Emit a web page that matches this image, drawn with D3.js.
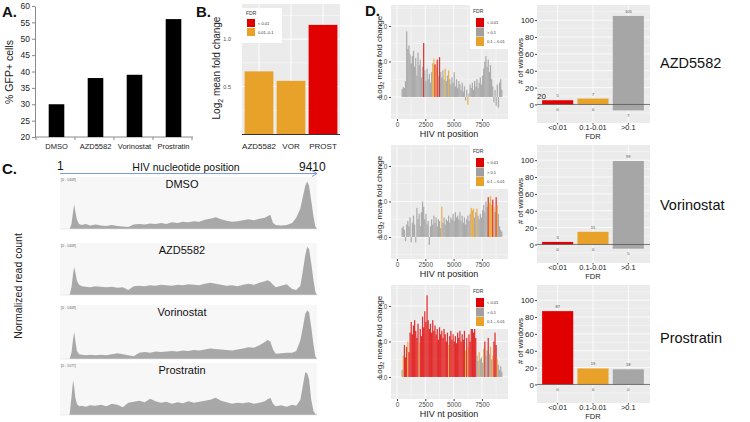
<!DOCTYPE html>
<html>
<head>
<meta charset="utf-8">
<script src="https://cdn.jsdelivr.net/npm/d3@7"></script>
<style>
body { margin: 0; background: #fff; }
</style>
</head>
<body>
<svg id="fig" width="750" height="422"></svg>
<script>
// ---- data ----
// A: % GFP+ cells
var gfpDrugs = ["DMSO", "AZD5582", "Vorinostat", "Prostratin"];
var gfpPct = [30, 38, 39, 56];
var gfpTicks = [20, 25, 30, 35, 40, 45, 50, 55, 60];

// B: log2 mean fold change per drug
var fcDrugs = ["AZD5582", "VOR", "PROST"];
var fcValues = [0.66, 0.56, 1.15];
var fcFdr = ["o", "o", "r"];
var fcTicks = [0.5, 1.0];

// C: coverage tracks (fraction of track max)
var trackNames = ["DMSO", "AZD5582", "Vorinostat", "Prostratin"];
var trackRanges = ["[0 - 1409]", "[0 - 1409]", "[0 - 1409]", "[0 - 1077]"];
var covPos = [0, 350, 420, 480, 520, 560, 620, 700, 800, 950,
  1100, 1300, 1500, 1700, 1900, 2100, 2300, 2500, 2700, 2900,
  3100, 3300, 3500, 3700, 3900, 4100, 4300, 4500, 4700, 4900,
  5100, 5300, 5500, 5700, 5900, 6100, 6300, 6500, 6700, 6900,
  7100, 7300, 7500, 7600, 7700, 7800, 7900, 8100, 8300, 8500,
  8650, 8800, 8900, 8980, 9050, 9120, 9200, 9280, 9350, 9410];
var covDMSO = [0, 0, 0.1, 0.35, 0.48, 0.35, 0.18, 0.1, 0.08, 0.1,
  0.07, 0.09, 0.07, 0.06, 0.08, 0.06, 0.05, 0.04, 0.09, 0.1,
  0.09, 0.11, 0.1, 0.12, 0.1, 0.13, 0.12, 0.14, 0.13, 0.15,
  0.14, 0.18, 0.2, 0.23, 0.19, 0.16, 0.14, 0.15, 0.17, 0.19,
  0.17, 0.2, 0.22, 0.25, 0.28, 0.12, 0.08, 0.07, 0.08, 0.12,
  0.22, 0.4, 0.65, 0.85, 0.93, 0.85, 0.55, 0.25, 0.05, 0];
var covAZD = [0, 0, 0.15, 0.42, 0.55, 0.45, 0.28, 0.2, 0.17, 0.16,
  0.15, 0.17, 0.16, 0.15, 0.16, 0.14, 0.15, 0.1, 0.17, 0.18,
  0.17, 0.19, 0.18, 0.2, 0.19, 0.18, 0.2, 0.19, 0.21, 0.2,
  0.19, 0.22, 0.24, 0.22, 0.2, 0.18, 0.19, 0.17, 0.2, 0.22,
  0.2, 0.24, 0.27, 0.29, 0.26, 0.2, 0.15, 0.18, 0.21, 0.12,
  0.1, 0.18, 0.5, 0.78, 0.94, 0.9, 0.62, 0.3, 0.06, 0];
var covVOR = [0, 0, 0.12, 0.38, 0.51, 0.35, 0.15, 0.09, 0.08, 0.07,
  0.08, 0.07, 0.08, 0.07, 0.09, 0.11, 0.09, 0.07, 0.05, 0.12,
  0.13, 0.12, 0.14, 0.13, 0.14, 0.15, 0.14, 0.16, 0.15, 0.17,
  0.16, 0.18, 0.2, 0.19, 0.18, 0.17, 0.16, 0.18, 0.2, 0.22,
  0.21, 0.26, 0.32, 0.36, 0.33, 0.18, 0.1, 0.11, 0.12, 0.12,
  0.15, 0.35, 0.62, 0.85, 0.92, 0.88, 0.6, 0.28, 0.05, 0];
var covPROS = [0, 0, 0.35, 0.68, 0.55, 0.35, 0.22, 0.17, 0.18, 0.16,
  0.19, 0.18, 0.2, 0.17, 0.22, 0.2, 0.15, 0.24, 0.26, 0.28,
  0.25, 0.32, 0.27, 0.24, 0.26, 0.22, 0.25, 0.23, 0.27, 0.24,
  0.26, 0.28, 0.3, 0.34, 0.28, 0.25, 0.22, 0.24, 0.23, 0.25,
  0.22, 0.24, 0.27, 0.31, 0.34, 0.22, 0.17, 0.19, 0.16, 0.2,
  0.18, 0.3, 0.6, 0.84, 0.82, 0.7, 0.3, 0.08, 0.02, 0];

// D: windows along HIV genome
var winPos = [400, 500, 600, 700, 800, 900, 1000, 1100, 1200, 1300,
  1400, 1500, 1600, 1700, 1800, 1900, 2000, 2100, 2200, 2300,
  2400, 2500, 2600, 2700, 2800, 2900, 3000, 3100, 3200, 3300,
  3400, 3500, 3600, 3700, 3800, 3900, 4000, 4100, 4200, 4300,
  4400, 4500, 4600, 4700, 4800, 4900, 5000, 5100, 5200, 5300,
  5400, 5500, 5600, 5700, 5800, 5900, 6000, 6100, 6200, 6300,
  6400, 6500, 6600, 6700, 6800, 6900, 7000, 7100, 7200, 7300,
  7400, 7500, 7600, 7700, 7800, 7900, 8000, 8100, 8200, 8300,
  8400, 8500, 8600, 8700, 8800, 8900, 9000, 9100, 9200];
var lfcAZD = [0.22, 0.28, 0.25, 0.45, 1.85, 1.35, 1.45, 1.2, 0.95, 1.15,
  1.3, 0.85, 1.1, 0.6, 1.25, 0.9, 1.05, 0.55, 0.85, 1.52,
  0.75, 0.45, 0.8, 0.5, 0.65, 0.4, 0.7, 0.95, 1.08, 0.92,
  0.85, 1.05, 0.6, 1.12, 0.7, 0.55, 0.75, 0.5, 0.8, 0.45,
  0.6, 0.75, 0.5, 0.35, 0.55, 0.4, 0.7, 0.3, 0.5, 0.25,
  0.45, 0.35, 0.2, 0.4, 0.15, 0.3, -0.1, 0.2, -0.22, 0.1,
  0.35, 0.25, 0.4, 0.2, 0.45, 0.3, 0.5, 0.25, 0.4, 0.55,
  0.35, 0.6, 0.8, 1.0, 1.15, 0.85, 1.05, 0.7, 0.9, 0.5,
  0.3, -0.15, 0.2, -0.25, 0.35, -0.3, 0.4, 0.5, 0.2];
var fdrAZD = "gggggggggg" + "gggggggggr" + "gggggggoor" + "orgrggggog" + "gogggggggg" +
  "ggggggggog" + "gggggggggg" + "gggggggggg" + "ggggggggg";
var lfcVOR = [0.25, 0.3, 0.2, -0.12, 0.35, 0.45, 0.3, 0.55, -0.15, 0.4,
  0.6, 0.35, -0.15, 0.82, 0.5, 0.65, 0.3, 0.7, 1.0, 0.85,
  0.5, 0.65, 0.35, 0.45, -0.22, 0.3, 0.5, 0.35, 0.6, 0.4,
  0.55, 0.3, 0.5, 0.45, 0.25, 0.85, 0.4, 0.55, 0.35, 0.5,
  0.45, 0.6, 0.4, 0.55, 0.5, 0.65, 0.45, 0.7, 0.55, 0.6,
  0.5, 0.7, 0.45, 0.6, 0.4, 0.55, 0.35, 0.5, 0.6, 0.45,
  0.65, 0.82, 0.75, 0.8, 0.55, 0.7, 0.8, 0.6, 0.5, 0.65,
  0.55, 0.75, 0.9, 0.7, 1.0, 0.85, 1.12, 0.95, 1.15, 0.9,
  1.05, 0.85, 0.7, 1.12, 0.9, 0.65, 0.3, 0.2, 0.15];
var fdrVOR = "gggggggggg" + "gggggggggg" + "gggggggggg" + "gggggogggg" + "gggggggggg" +
  "gggggggggg" + "goooggoggg" + "ggggggrooo" + "rogrogggg";
var lfcPROS = [0.2, 0.6, 0.9, 0.55, 0.85, 1.0, 0.7, 1.25, 1.55, 1.2,
  1.45, 1.6, 1.3, 1.1, 1.5, 0.95, 1.35, 1.15, 1.7, 1.4,
  1.85, 1.55, 2.3, 1.6, 1.35, 1.5, 1.25, 1.6, 1.3, 1.45,
  1.2, 1.35, 1.05, 1.4, 1.2, 1.3, 1.1, 1.35, 1.2, 1.0,
  1.25, 0.9, 1.15, 1.3, 1.05, 1.2, 1.0, 1.15, 0.95, 1.25,
  1.1, 1.3, 1.0, 1.2, 1.05, 1.3, 0.75, 1.1, 0.85, 1.2,
  1.0, 1.35, 1.45, 1.25, 1.4, 1.1, 0.6, 0.45, 0.7, 0.5,
  0.55, 0.4, 0.8, 1.0, 0.6, 0.75, 1.1, 0.65, 0.85, 0.5,
  0.6, 1.0, 1.25, 0.9, 0.5, 0.35, 0.2, 0.3, 0.15];
var fdrPROS = "gorrrorrrr" + "rrrrrorrrr" + "rrrrrrrrrr" + "rrrrrrrrrr" + "rorrrrrrrr" +
  "rrrrrroror" + "rrrrrrggog" + "ggorggrgog" + "orrrogggg";
var posTicks = [0, 2500, 5000, 7500];
var lfcTicks = [0, 1, 2];

// D: window counts per FDR class (up = above zero, down = below zero)
var fdrLevels = ["<0.01", "0.1-0.01", ">0.1"];
var upAZD = [5, 7, 105], downAZD = [0, 0, 7];
var upVOR = [3, 15, 99], downVOR = [0, 0, 5];
var upPROS = [87, 19, 18], downPROS = [0, 0, 0];
var countTicks = [0, 20, 40, 60, 80, 100];
var dDrugs = ["AZD5582", "Vorinostat", "Prostratin"];

// ---- drawing ----
var FONT = '"Liberation Sans", Arial, Helvetica, sans-serif';
var RED = "#e00000", ORANGE = "#e9a229", GREY = "#a0a0a0";
var fdrColor = {r: RED, o: ORANGE, g: GREY};
var svg = d3.select("#fig").attr("font-family", FONT);

function letter(t, x, y) {
    svg.append("text").attr("x", x).attr("y", y).text(t)
        .attr("font-size", 15).attr("font-weight", "bold").attr("fill", "#111");
}

// subscript title "Log2 mean fold change"
function log2Title(x, y, size) {
    var t = svg.append("text")
        .attr("transform", "translate(" + x + "," + y + ") rotate(-90)")
        .attr("text-anchor", "middle").attr("font-size", size).attr("fill", "#222");
    t.append("tspan").text("Log");
    t.append("tspan").text("2").attr("font-size", size * 0.7).attr("dy", size * 0.3);
    t.append("tspan").text(" mean fold change").attr("dy", -size * 0.3);
}

function ggAxisStyle(g, size) {
    g.attr("font-family", FONT);
    g.select(".domain").remove();
    g.selectAll(".tick line").attr("stroke", "#444");
    g.selectAll(".tick text").attr("font-size", size).attr("fill", "#4d4d4d");
}

// ----- Panel A -----
letter("A.", 2, 17);
var yA = d3.scaleLinear().domain([20, 60]).range([137, 6]);
var xA = d3.scaleBand().domain(gfpDrugs).range([37, 193]).paddingInner(0.6).paddingOuter(0.3);
svg.append("g").attr("transform", "translate(35,0)")
    .call(d3.axisLeft(yA).tickValues(gfpTicks).tickSize(3).tickSizeOuter(0).tickPadding(2))
    .call(function (g) {
        g.attr("font-family", FONT);
        g.select(".domain").attr("stroke", "#8a8a8a");
        g.selectAll(".tick line").attr("stroke", "#8a8a8a");
        g.selectAll(".tick text").attr("font-size", 8.5).attr("fill", "#222");
    });
svg.append("line").attr("x1", 35).attr("x2", 193).attr("y1", 137).attr("y2", 137).attr("stroke", "#8a8a8a");
svg.selectAll(".tickA").data(d3.range(gfpDrugs.length + 1)).enter().append("line")
    .attr("x1", function (i) { return 37 + i * xA.step() - 1; })
    .attr("x2", function (i) { return 37 + i * xA.step() - 1; })
    .attr("y1", 137).attr("y2", 140).attr("stroke", "#8a8a8a");
svg.selectAll(".barA").data(gfpDrugs).enter().append("rect")
    .attr("x", function (d) { return xA(d); })
    .attr("width", xA.bandwidth())
    .attr("y", function (d, i) { return yA(gfpPct[i]); })
    .attr("height", function (d, i) { return yA(20) - yA(gfpPct[i]); })
    .attr("fill", "#000");
svg.selectAll(".labA").data(gfpDrugs).enter().append("text")
    .attr("x", function (d) { return xA(d) + xA.bandwidth() / 2; })
    .attr("y", 149).attr("text-anchor", "middle").attr("font-size", 7.5).attr("fill", "#222")
    .text(function (d) { return d; });
svg.append("text").attr("transform", "translate(13,72) rotate(-90)")
    .attr("text-anchor", "middle").attr("font-size", 10.5).attr("fill", "#222").text("% GFP+ cells");

// ----- Panel B -----
letter("B.", 196, 17);
var yB = d3.scaleLinear().domain([0, 1.37]).range([134, 4]);
var xB = d3.scaleBand().domain(fcDrugs).range([243, 339]).paddingInner(0.1).paddingOuter(0.05);
svg.append("rect").attr("x", 242).attr("y", 4).attr("width", 98).attr("height", 130).attr("fill", "#ebebeb");
[0.25, 0.75, 1.25].forEach(function (v) {
    svg.append("line").attr("x1", 242).attr("x2", 340).attr("y1", yB(v)).attr("y2", yB(v))
        .attr("stroke", "#fff").attr("stroke-width", 0.5);
});
fcTicks.forEach(function (v) {
    svg.append("line").attr("x1", 242).attr("x2", 340).attr("y1", yB(v)).attr("y2", yB(v))
        .attr("stroke", "#fff").attr("stroke-width", 1);
});
fcDrugs.forEach(function (d) {
    var cx = xB(d) + xB.bandwidth() / 2;
    svg.append("line").attr("x1", cx).attr("x2", cx).attr("y1", 4).attr("y2", 134)
        .attr("stroke", "#fff").attr("stroke-width", 1);
});
svg.selectAll(".barB").data(fcDrugs).enter().append("rect")
    .attr("x", function (d) { return xB(d); })
    .attr("width", xB.bandwidth())
    .attr("y", function (d, i) { return yB(fcValues[i]); })
    .attr("height", function (d, i) { return yB(0) - yB(fcValues[i]); })
    .attr("fill", function (d, i) { return fdrColor[fcFdr[i]]; });
svg.append("line").attr("x1", 242).attr("x2", 340).attr("y1", 134.5).attr("y2", 134.5).attr("stroke", "#333");
svg.append("g").attr("transform", "translate(242,0)")
    .call(d3.axisLeft(yB).tickValues(fcTicks).tickFormat(d3.format(".1f")).tickSize(2).tickPadding(9))
    .call(function (g) { ggAxisStyle(g, 5.5); g.selectAll(".tick line").attr("stroke", "none"); });
svg.selectAll(".labB").data(fcDrugs).enter().append("text")
    .attr("x", function (d) { return xB(d) + xB.bandwidth() / 2; })
    .attr("y", 149).attr("text-anchor", "middle").attr("font-size", 8).attr("fill", "#222")
    .text(function (d) { return d; });
log2Title(220, 68, 10);
// legend B
svg.append("rect").attr("x", 240).attr("y", 8).attr("width", 42).attr("height", 35).attr("fill", "#fff");
svg.append("text").attr("x", 246).attr("y", 15).attr("font-size", 5).attr("fill", "#333").text("FDR");
[["r", "< 0.01"], ["o", "0.01\u20130.1"]].forEach(function (e, i) {
    svg.append("rect").attr("x", 247).attr("y", 19 + i * 9).attr("width", 8).attr("height", 8).attr("fill", fdrColor[e[0]]);
    svg.append("text").attr("x", 258).attr("y", 25 + i * 9).attr("font-size", 4).attr("fill", "#333").text(e[1]);
});

// ----- Panel C -----
letter("C.", 2, 174);
svg.append("text").attr("x", 57).attr("y", 170).attr("font-size", 12).attr("fill", "#111").text("1");
svg.append("text").attr("x", 186).attr("y", 171).attr("text-anchor", "middle").attr("font-size", 10.5)
    .attr("fill", "#111").text("HIV nucleotide position");
svg.append("text").attr("x", 299).attr("y", 171).attr("font-size", 12).attr("fill", "#111").text("9410");
var xC = d3.scaleLinear().domain([0, 9410]).range([60, 317]);
svg.append("line").attr("x1", xC(0)).attr("x2", xC(9410)).attr("y1", 173.5).attr("y2", 173.5)
    .attr("stroke", "#7b9ee0").attr("stroke-width", 1);
svg.append("path").attr("d", "M312,170.5 L317,173.5 L312,176.5").attr("fill", "none")
    .attr("stroke", "#7b9ee0").attr("stroke-width", 1);
var trackBox = [[177, 229], [243, 295], [305, 359], [363, 415]];
var covSeries = [covDMSO, covAZD, covVOR, covPROS];
trackNames.forEach(function (name, k) {
    var top = trackBox[k][0], bot = trackBox[k][1];
    svg.append("rect").attr("x", xC(0)).attr("y", top).attr("width", xC(9410) - xC(0)).attr("height", bot - top)
        .attr("fill", "#f7f7f7");
    var yT = d3.scaleLinear().domain([0, 1]).range([bot, top + 1]);
    var area = d3.area()
        .x(function (d, i) { return xC(covPos[i]); })
        .y0(bot).y1(function (d) { return yT(d); });
    svg.append("path").datum(covSeries[k]).attr("d", area).attr("fill", "#a8a8a8");
    svg.append("line").attr("x1", xC(0)).attr("x2", xC(9410)).attr("y1", bot).attr("y2", bot)
        .attr("stroke", "#e2e2e2").attr("stroke-width", 0.6);
    svg.append("text").attr("x", 61).attr("y", top + 4).attr("font-size", 3.5).attr("fill", "#666").text(trackRanges[k]);
    svg.append("text").attr("x", 182).attr("y", top + 11).attr("text-anchor", "middle")
        .attr("font-size", 11).attr("fill", "#111").text(name);
});
svg.append("text").attr("transform", "translate(22,286) rotate(-90)")
    .attr("text-anchor", "middle").attr("font-size", 10.5).attr("fill", "#222").text("Normalized read count");

// ----- Panel D -----
letter("D.", 365, 16);
var lfcSeries = [lfcAZD, lfcVOR, lfcPROS];
var fdrSeries = [fdrAZD, fdrVOR, fdrPROS];
var upSeries = [upAZD, upVOR, upPROS];
var downSeries = [downAZD, downVOR, downPROS];
var scatTop = [5, 145, 285];
var barTop = [5, 145, 285];
var dLabelY = [68, 210, 343];
var xS = d3.scaleLinear().domain([-530, 9800]).range([391, 508]);

dDrugs.forEach(function (drug, k) {
    // --- windows plot ---
    var top = scatTop[k], h = 114;
    var yS = d3.scaleLinear().domain([-0.62, 2.59]).range([top + h, top]);
    svg.append("rect").attr("x", 391).attr("y", top).attr("width", 117).attr("height", h).attr("fill", "#ebebeb");
    [-0.5, 0.5, 1.5, 2.5].forEach(function (v) {
        svg.append("line").attr("x1", 391).attr("x2", 508).attr("y1", yS(v)).attr("y2", yS(v))
            .attr("stroke", "#fff").attr("stroke-width", 0.4);
    });
    [1250, 3750, 6250, 8750].forEach(function (v) {
        svg.append("line").attr("x1", xS(v)).attr("x2", xS(v)).attr("y1", top).attr("y2", top + h)
            .attr("stroke", "#fff").attr("stroke-width", 0.4);
    });
    lfcTicks.forEach(function (v) {
        svg.append("line").attr("x1", 391).attr("x2", 508).attr("y1", yS(v)).attr("y2", yS(v))
            .attr("stroke", "#fff").attr("stroke-width", 0.8);
    });
    posTicks.forEach(function (v) {
        svg.append("line").attr("x1", xS(v)).attr("x2", xS(v)).attr("y1", top).attr("y2", top + h)
            .attr("stroke", "#fff").attr("stroke-width", 0.8);
    });
    var lfc = lfcSeries[k], fdr = fdrSeries[k];
    svg.append("g").selectAll("rect").data(winPos).enter().append("rect")
        .attr("x", function (d) { return xS(d); })
        .attr("width", function (d) { return xS(d + 110) - xS(d); })
        .attr("y", function (d, i) { return yS(Math.max(lfc[i], 0)); })
        .attr("height", function (d, i) { return Math.abs(yS(lfc[i]) - yS(0)); })
        .attr("fill", function (d, i) { return fdrColor[fdr[i]]; })
        .attr("opacity", function (d, i) { return fdr[i] === "g" ? 0.85 : 0.8; });
    svg.append("g").attr("transform", "translate(391,0)")
        .call(d3.axisLeft(yS).tickValues(lfcTicks).tickSize(2).tickPadding(1.5))
        .call(function (g) { ggAxisStyle(g, 6.5); });
    svg.append("g").attr("transform", "translate(0," + (top + h) + ")")
        .call(d3.axisBottom(xS).tickValues(posTicks).tickFormat(d3.format("d")).tickSize(2).tickPadding(1))
        .call(function (g) { ggAxisStyle(g, 6.5); });
    svg.append("text").attr("x", 449).attr("y", top + h + 18).attr("text-anchor", "middle")
        .attr("font-size", 9).attr("fill", "#222").text("HIV nt position");
    log2Title(381.5, top + 52, 8);
    // legend
    svg.append("rect").attr("x", 470).attr("y", top).attr("width", 42).attr("height", 44).attr("fill", "#fff");
    svg.append("text").attr("x", 473).attr("y", top + 8).attr("font-size", 5).attr("fill", "#333").text("FDR");
    [["r", "< 0.01"], ["g", "> 0.1"], ["o", "0.1 \u2013 0.01"]].forEach(function (e, i) {
        svg.append("rect").attr("x", 476).attr("y", top + 13 + i * 9.5).attr("width", 8).attr("height", 9)
            .attr("fill", fdrColor[e[0]]);
        svg.append("text").attr("x", 487).attr("y", top + 19 + i * 9.5).attr("font-size", 4).attr("fill", "#333").text(e[1]);
    });

    // --- counts plot ---
    var bt = barTop[k], bh = 118;
    var yN = d3.scaleLinear().domain([-22, 118]).range([bt + bh, bt]);
    var xN = d3.scaleBand().domain(fdrLevels).range([540, 646]).paddingInner(0.12).paddingOuter(0.06);
    svg.append("rect").attr("x", 537).attr("y", bt).attr("width", 113).attr("height", bh).attr("fill", "#ebebeb");
    [-10, 10, 30, 50, 70, 90, 110].forEach(function (v) {
        svg.append("line").attr("x1", 537).attr("x2", 650).attr("y1", yN(v)).attr("y2", yN(v))
            .attr("stroke", "#fff").attr("stroke-width", 0.4);
    });
    countTicks.forEach(function (v) {
        svg.append("line").attr("x1", 537).attr("x2", 650).attr("y1", yN(v)).attr("y2", yN(v))
            .attr("stroke", "#fff").attr("stroke-width", 0.8);
    });
    fdrLevels.forEach(function (d) {
        var cx = xN(d) + xN.bandwidth() / 2;
        svg.append("line").attr("x1", cx).attr("x2", cx).attr("y1", bt).attr("y2", bt + bh)
            .attr("stroke", "#fff").attr("stroke-width", 0.8);
    });
    var up = upSeries[k], down = downSeries[k];
    var barFill = [RED, ORANGE, "#a6a6a6"];
    fdrLevels.forEach(function (d, i) {
        svg.append("rect").attr("x", xN(d)).attr("width", xN.bandwidth())
            .attr("y", yN(up[i])).attr("height", yN(-down[i]) - yN(up[i]))
            .attr("fill", barFill[i]);
        svg.append("text").attr("x", xN(d) + xN.bandwidth() / 2).attr("y", yN(up[i]) - 3)
            .attr("text-anchor", "middle").attr("font-size", 4).attr("fill", "#444").text(up[i]);
        svg.append("text").attr("x", xN(d) + xN.bandwidth() / 2).attr("y", yN(-down[i]) + 6.5)
            .attr("text-anchor", "middle").attr("font-size", 4).attr("fill", "#444").text(down[i]);
    });
    svg.append("line").attr("x1", 537).attr("x2", 650).attr("y1", yN(0)).attr("y2", yN(0))
        .attr("stroke", "#555").attr("stroke-width", 0.8);
    svg.append("g").attr("transform", "translate(537,0)")
        .call(d3.axisLeft(yN).tickValues(countTicks).tickSize(2).tickPadding(1))
        .call(function (g) { ggAxisStyle(g, 8); g.selectAll(".tick text").attr("fill", "#222"); });
    svg.append("g").attr("transform", "translate(0," + (bt + bh) + ")")
        .call(d3.axisBottom(xN).tickSize(1.5).tickPadding(0))
        .call(function (g) { ggAxisStyle(g, 7.5); g.selectAll(".tick text").attr("fill", "#222"); });
    svg.append("text").attr("x", 593).attr("y", bt + bh + 15.5).attr("text-anchor", "middle")
        .attr("font-size", 7.5).attr("fill", "#222").text("FDR");
    svg.append("text").attr("transform", "translate(523," + (bt + 56) + ") rotate(-90)")
        .attr("text-anchor", "middle").attr("font-size", 8).attr("fill", "#222").text("# of windows");
    if (k === 0) {
        svg.append("text").attr("x", 537).attr("y", yN(0) - 5).attr("font-size", 8).attr("fill", "#222").text("20");
    }
    svg.append("text").attr("x", 660).attr("y", dLabelY[k]).attr("font-size", 14.5).attr("fill", "#111").text(drug);
});
</script>
</body>
</html>
